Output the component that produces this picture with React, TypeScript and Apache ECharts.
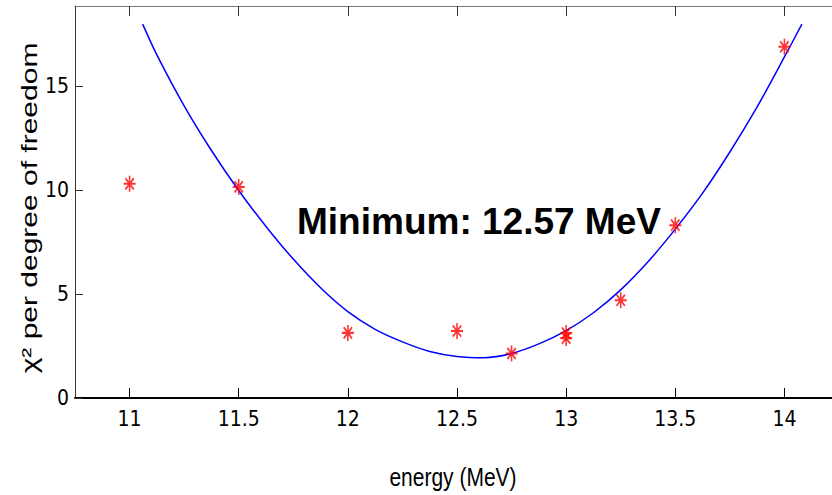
import React, { useEffect, useRef } from "react";
import * as echarts from "echarts";

const energies = [11, 11.5, 12, 12.5, 12.75, 13, 13, 13.25, 13.5, 14];
const chi2 = [10.3, 10.15, 3.13, 3.22, 2.14, 3.12, 2.88, 4.7, 8.31, 16.89];

const fitX = [11.06, 11.125, 11.25, 11.375, 11.5, 11.625, 11.75, 11.875, 12.0, 12.125, 12.25, 12.375, 12.5, 12.625, 12.75, 12.875, 13.0, 13.125, 13.25, 13.375, 13.5, 13.625, 13.75, 13.875, 14.0, 14.08];
const fitY = [17.98, 16.5, 14.05, 11.9, 9.98, 8.25, 6.68, 5.3, 4.15, 3.3, 2.7, 2.24, 2.0, 1.94, 2.14, 2.6, 3.24, 4.1, 5.2, 6.55, 8.12, 9.85, 11.83, 14.0, 16.4, 17.98];

const xTicks = [11, 11.5, 12, 12.5, 13, 13.5, 14];
const yTicks = [0, 5, 10, 15];

const xTitle = "energy (MeV)";
const yTitle = "χ² per degree of freedom";
const note = "Minimum: 12.57 MeV";

const X_MIN = 10.75;
const X_MAX = 14.25;
const Y_MIN = 0;
const Y_MAX = 18.85;

const tickFont = "'Liberation Sans Narrow', 'DejaVu Sans Condensed', 'Liberation Sans', sans-serif";

const starPath =
  "path://M0,-6L0,6M-6,0L6,0M-4.2,-4.2L4.2,4.2M-4.2,4.2L4.2,-4.2";

export default function App() {
  const ref = useRef<HTMLDivElement>(null);
  useEffect(() => {
    if (!ref.current) return;
    const chart = echarts.init(ref.current, undefined, { renderer: "svg" });
    const option: any = {
      animation: false,
      backgroundColor: "#ffffff",
      grid: {
        left: 75,
        top: 6,
        right: -7,
        bottom: 97,
        containLabel: false,
        outerBoundsMode: "none",
      },
      xAxis: [
        {
          type: "value",
          min: X_MIN,
          max: X_MAX,
          position: "bottom",
          axisLine: { show: true, onZero: false, lineStyle: { color: "#000", width: 2 } },
          axisTick: { show: true, inside: true, length: 10, customValues: xTicks, lineStyle: { color: "#000", width: 1 } },
          axisLabel: {
            show: true,
            customValues: xTicks,
            margin: 10,
            color: "#000",
            fontSize: 21,
            fontFamily: tickFont,
          },
          splitLine: { show: false },
        },
        {
          type: "value",
          min: X_MIN,
          max: X_MAX,
          position: "top",
          axisLine: { show: true, onZero: false, lineStyle: { color: "#777", width: 1 } },
          axisTick: { show: true, inside: true, length: 10, customValues: xTicks, lineStyle: { color: "#333", width: 1 } },
          axisLabel: { show: false },
          splitLine: { show: false },
        },
      ],
      yAxis: {
        type: "value",
        min: Y_MIN,
        max: Y_MAX,
        axisLine: { show: true, onZero: false, lineStyle: { color: "#333", width: 1 } },
        axisTick: { show: true, inside: true, length: 8, customValues: yTicks, lineStyle: { color: "#333", width: 1 } },
        axisLabel: {
          show: true,
          customValues: yTicks,
          margin: 6,
          color: "#000",
          fontSize: 21,
          fontFamily: tickFont,
        },
        splitLine: { show: false },
      },
      series: [
        {
          type: "line",
          data: fitX.map((x, i) => [x, fitY[i]]),
          showSymbol: false,
          smooth: 0.3,
          lineStyle: { color: "#0000ff", width: 1.5 },
          z: 2,
        },
        {
          type: "scatter",
          data: energies.map((x, i) => [x, chi2[i]]),
          symbol: starPath,
          symbolSize: [12, 16],
          itemStyle: { color: "transparent", borderColor: "#ff0000", borderWidth: 1.8 },
          z: 3,
        },
      ],
      graphic: [
        {
          type: "text",
          x: 30,
          y: 208,
          rotation: Math.PI / 2,
          scaleY: 0.72,
          style: {
            text: yTitle,
            fontSize: 30,
            fontFamily: "'Liberation Sans', Arial, sans-serif",
            fill: "#000",
            align: "center",
            verticalAlign: "middle",
          },
        },
        {
          type: "text",
          x: 453,
          y: 477,
          scaleX: 0.84,
          style: {
            text: xTitle,
            fontSize: 25,
            fontFamily: "'Liberation Sans', Arial, sans-serif",
            fill: "#000",
            align: "center",
            verticalAlign: "middle",
          },
        },
        {
          type: "text",
          x: 297,
          y: 221,
          style: {
            text: note,
            fontSize: 37,
            fontWeight: "bold",
            fontFamily: "'Liberation Sans', Arial, sans-serif",
            fill: "#000",
            align: "left",
            verticalAlign: "middle",
          },
        },
      ],
    };
    chart.setOption(option);
    return () => chart.dispose();
  }, []);
  return (
    <div
      ref={ref}
      style={{ position: "fixed", left: 0, top: 0, width: 832, height: 495, background: "#fff" }}
    />
  );
}
